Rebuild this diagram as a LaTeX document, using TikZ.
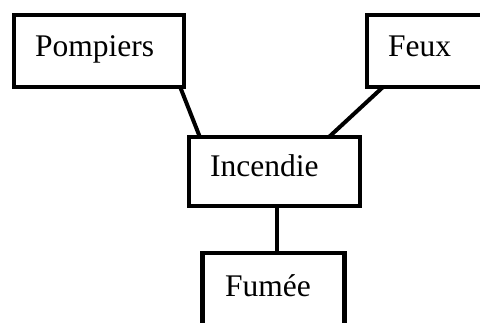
\documentclass[tikz,border=0pt]{standalone}
\usepackage{fontspec}
\setmainfont{Liberation Serif}
\usetikzlibrary{calc}
\tikzset{
  box/.style={draw=black, line width=4.5pt, fill=white, inner sep=0pt},
  lbl/.style={anchor=base west, inner sep=0pt, font=\fontsize{31.5}{36}\selectfont},
  link/.style={draw=black, line width=4pt}
}
\begin{document}
\begin{tikzpicture}[x=1pt,y=-1pt]
\useasboundingbox (0,0) rectangle (480,323);
\clip (0,0) rectangle (480,323);
% boxes (centre-line coordinates)
\node[box, minimum width=170pt, minimum height=72pt] (pomp) at (99,51) {};
\node[box, minimum width=153pt, minimum height=72pt] (feux) at (443.5,51) {};
\node[box, minimum width=171pt, minimum height=69pt] (inc) at (274.5,171.5) {};
\node[box, minimum width=142pt, minimum height=105pt] (fum) at (273.5,305.5) {};
% labels
\node[lbl] (tpomp) at (35,57) {Pompiers};
\node[lbl] (tfeux) at (388,57) {Feux};
\node[lbl] (tinc) at (210,177) {Incendie};
\node[lbl] (tfum) at (225,297) {Fumée};
% connectors
\draw[link] ($(pomp.south east)+(-6,-2)$) -- ($(inc.north west)+(13,2)$);
\draw[link] ($(feux.south west)+(18,-2)$) -- ($(inc.north east)+(-33,2)$);
\draw[link] (inc.south -| 277,0) -- (fum.north -| 277,0);
\end{tikzpicture}
\end{document}
